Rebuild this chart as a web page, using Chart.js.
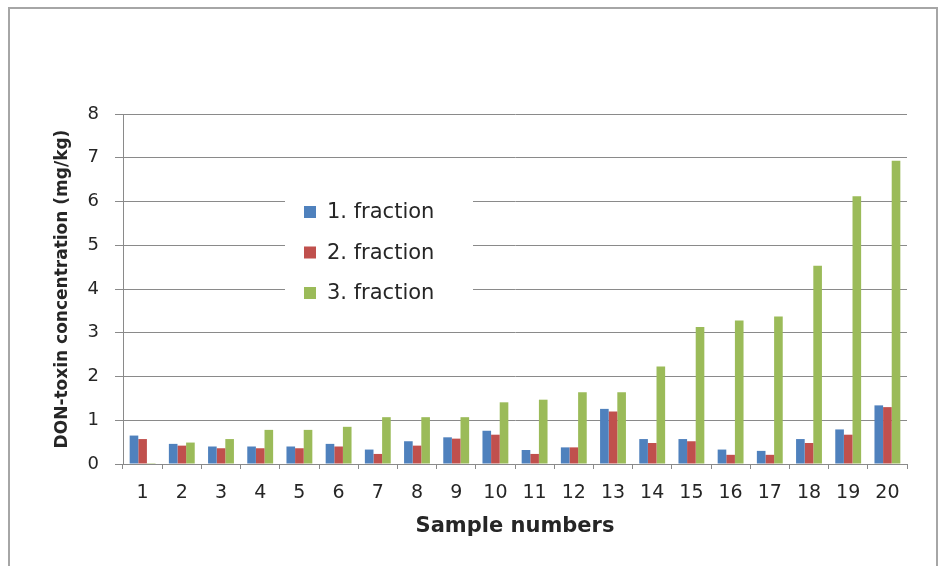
<!DOCTYPE html>
<html>
<head>
<meta charset="utf-8">
<script src="https://cdn.jsdelivr.net/npm/chart.js@4/dist/chart.umd.min.js"></script>
<style>
	html, body { margin: 0; padding: 0; background: #fff; }
	#wrap { position: relative; width: 943px; height: 566px; }
	#frame {
		position: absolute; left: 8px; top: 7px; width: 930px; height: 570px;
		border: 2px solid #a6a6a6; pointer-events: none; box-sizing: border-box;
	}
</style>
</head>
<body>
<div id="wrap">
	<canvas id="chart" width="943" height="566"></canvas>
	<div id="frame"></div>
</div>
<script>
const categories	= [ '1', '2', '3', '4', '5', '6', '7', '8', '9', '10', '11', '12', '13', '14', '15', '16', '17', '18', '19', '20' ];
const fraction1		= [ 0.65, 0.46, 0.40, 0.40, 0.40, 0.46, 0.33, 0.52, 0.61, 0.76, 0.32, 0.38, 1.26, 0.57, 0.57, 0.33, 0.30, 0.57, 0.79, 1.34 ];
const fraction2		= [ 0.57, 0.42, 0.36, 0.36, 0.36, 0.40, 0.23, 0.42, 0.58, 0.67, 0.23, 0.38, 1.20, 0.48, 0.52, 0.21, 0.21, 0.48, 0.67, 1.30 ];
const fraction3		= [ 0.02, 0.49, 0.57, 0.78, 0.78, 0.85, 1.07, 1.07, 1.07, 1.41, 1.47, 1.64, 1.64, 2.23, 3.13, 3.28, 3.37, 4.53, 6.12, 6.93 ];
const seriesNames	= [ '1. fraction', '2. fraction', '3. fraction' ];
const yTicks		= [ 0, 1, 2, 3, 4, 5, 6, 7, 8 ];

const FONT	= "'DejaVu Sans', sans-serif";
const TEXT	= '#262626';
const GRID	= '#8a8a8a';

// legend sits inside the plot on a white patch, like the Excel original
const insideLegend = {
	id: 'insideLegend',
	afterDraw( chart ) {
		const ctx	= chart.ctx;
		ctx.save();
		ctx.fillStyle = '#fff';
		ctx.fillRect( 285, 190, 188, 122 );
		ctx.font		= '21px ' + FONT;
		ctx.textBaseline	= 'middle';
		chart.data.datasets.forEach( ( ds, i ) => {
			const cy = 212 + i * 40.5;
			ctx.fillStyle = ds.backgroundColor;
			ctx.fillRect( 304, cy - 6, 12, 12 );
			ctx.fillStyle = TEXT;
			ctx.fillText( ds.label, 327, cy + 1 );
		} );
		ctx.restore();
	}
};

new Chart( document.getElementById( 'chart' ), {
	type: 'bar',
	data: {
		labels: categories,
		datasets: [
			{ label: seriesNames[ 0 ], data: fraction1, backgroundColor: '#4f81bd' },
			{ label: seriesNames[ 1 ], data: fraction2, backgroundColor: '#c0504d' },
			{ label: seriesNames[ 2 ], data: fraction3, backgroundColor: '#9bbb59' }
		]
	},
	options: {
		responsive: false,
		animation: false,
		devicePixelRatio: 1,
		layout: { padding: { left: 0, top: 114, right: 36, bottom: 0 } },
		datasets: { bar: { categoryPercentage: 0.66, barPercentage: 1, borderWidth: 0 } },
		plugins: {
			legend: { display: false },
			tooltip: { enabled: false }
		},
		scales: {
			x: {
				afterFit: s => { s.height = 102; },
				grid: { drawOnChartArea: false, drawTicks: true, tickLength: 5, color: GRID, offset: true },
				border: { display: true, color: GRID, width: 1 },
				ticks: { color: TEXT, font: { family: FONT, size: 19 }, padding: 13, maxRotation: 0, autoSkip: false },
				title: {
					display: true, text: 'Sample numbers', color: TEXT,
					font: { family: FONT, size: 21, weight: 'bold' },
					padding: { top: 0, bottom: 27 }
				}
			},
			y: {
				min: 0, max: 8,
				afterFit: s => { s.width = 123; },
				afterBuildTicks: s => { s.ticks = yTicks.map( v => ( { value: v } ) ); },
				grid: { color: GRID, lineWidth: 1, drawTicks: true, tickLength: 8 },
				border: { display: true, color: GRID, width: 1 },
				ticks: { color: TEXT, font: { family: FONT, size: 18 }, padding: 16 },
				title: {
					display: true, text: 'DON-toxin concentration (mg/kg)', color: TEXT,
					font: { family: FONT, size: 17, weight: 'bold' },
					padding: { top: 52, bottom: 0 }
				}
			}
		}
	},
	plugins: [ insideLegend ]
} );
</script>
</body>
</html>
